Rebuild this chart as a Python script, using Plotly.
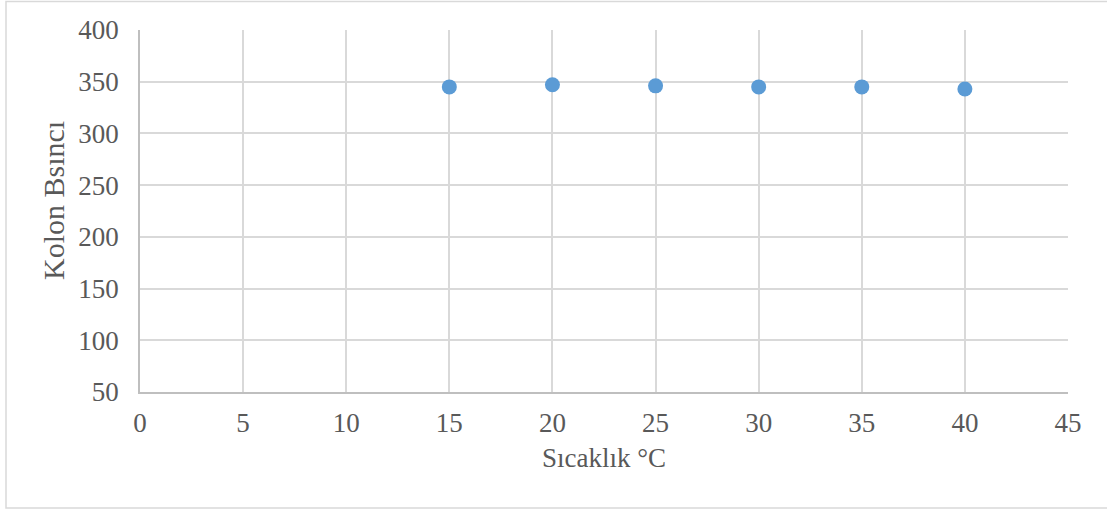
import plotly.graph_objects as go

# Sıcaklık (°C) ve kolon basıncı ölçümleri
sicaklik = [15, 20, 25, 30, 35, 40]
kolon_basinci = [345, 347, 346, 345, 345, 343]

x_ticks = [0, 5, 10, 15, 20, 25, 30, 35, 40, 45]
y_ticks = [50, 100, 150, 200, 250, 300, 350, 400]

W, H = 1107, 510
L, R, T, B = 140, 39, 30, 118
pw, ph = W - L - R, H - T - B

text_color = "#595959"
grid_color = "#D9D9D9"
font_family = "Liberation Serif, Times New Roman, serif"

fig = go.Figure()
fig.add_trace(go.Scatter(
    x=sicaklik,
    y=kolon_basinci,
    mode="markers",
    marker=dict(color="#5B9BD5", size=15, line=dict(width=0)),
    showlegend=False,
    cliponaxis=False,
))

fig.update_layout(
    width=W,
    height=H,
    margin=dict(l=L, r=R, t=T, b=B),
    paper_bgcolor="white",
    plot_bgcolor="white",
    font=dict(family=font_family, color=text_color, size=27),
    xaxis=dict(
        range=[0, 45],
        tickvals=x_ticks,
        ticktext=[str(v) for v in x_ticks],
        showgrid=True,
        gridcolor=grid_color,
        gridwidth=1.5,
        zeroline=False,
        showline=True,
        linecolor="#BFBFBF",
        linewidth=1.5,
        ticks="",
        ticklabelstandoff=6,
        tickfont=dict(size=27, color=text_color),
        title=dict(text="Sıcaklık °C", font=dict(size=27, color=text_color), standoff=11),
    ),
    yaxis=dict(
        range=[50, 400],
        tickvals=y_ticks,
        ticktext=[str(v) for v in y_ticks],
        showgrid=True,
        gridcolor=grid_color,
        gridwidth=1.5,
        zeroline=False,
        showline=True,
        linecolor="#BFBFBF",
        linewidth=1.5,
        ticks="",
        ticklabelstandoff=14,
        tickfont=dict(size=27, color=text_color),
    ),
)

# Y ekseni başlığı
fig.add_annotation(
    text="Kolon Bsıncı",
    xref="paper", yref="paper",
    x=(54 - L) / pw, y=(H - B - 201) / ph,
    xanchor="center", yanchor="middle",
    textangle=-90,
    showarrow=False,
    font=dict(size=30, color=text_color, family=font_family),
)

# Grafik alanının dış çerçevesi
fig.add_shape(
    type="rect",
    xref="paper", yref="paper",
    x0=(6 - L) / pw, x1=(W + 5 - L) / pw,
    y0=(H - B - 508) / ph, y1=(H - B - 1.5) / ph,
    line=dict(color="#D9D9D9", width=1.5),
    fillcolor="rgba(0,0,0,0)",
    layer="below",
)

fig.write_html("out.html")
